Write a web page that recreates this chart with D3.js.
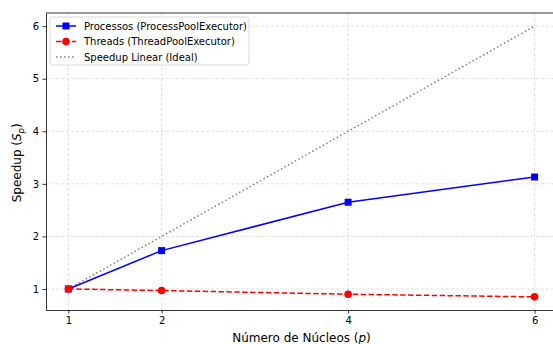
<!DOCTYPE html>
<html>
<head>
<meta charset="utf-8">
<script src="https://cdn.jsdelivr.net/npm/d3@7"></script>
<style>
  body { margin: 0; background: #fff; }
  svg { font-family: "DejaVu Sans", sans-serif; }
</style>
</head>
<body>
<div id="chart"></div>
<script>
// dados
var cores = [1, 2, 4, 6];
var processos = [1.0, 1.73, 2.65, 3.13];
var threads = [1.0, 0.97, 0.90, 0.85];
var linear = [1, 2, 4, 6];
var xTicks = [1, 2, 4, 6];
var yTicks = [1, 2, 3, 4, 5, 6];

var W = 553, H = 344;
var margin = {top: 13, right: -4, bottom: 34, left: 46},
  width = W - margin.left - margin.right,
  height = H - margin.top - margin.bottom;

var svg = d3.select("#chart").append("svg")
  .attr("width", W)
  .attr("height", H);

var g = svg.append("g")
  .attr("transform", "translate(" + margin.left + "," + margin.top + ")");

var x = d3.scaleLinear().domain([0.76, 6.24]).range([0, width]);
var y = d3.scaleLinear().domain([0.6, 6.25]).range([height, 0]);

// grid
g.selectAll(".gx").data(xTicks).enter().append("line")
  .attr("x1", d => x(d)).attr("x2", d => x(d))
  .attr("y1", 0).attr("y2", height)
  .attr("stroke", "#b0b0b0").attr("stroke-opacity", 0.5)
  .attr("stroke-dasharray", "3,2").attr("stroke-width", 0.8);
g.selectAll(".gy").data(yTicks).enter().append("line")
  .attr("y1", d => y(d)).attr("y2", d => y(d))
  .attr("x1", 0).attr("x2", width)
  .attr("stroke", "#b0b0b0").attr("stroke-opacity", 0.5)
  .attr("stroke-dasharray", "3,2").attr("stroke-width", 0.8);

var line = d3.line().x((d, i) => x(cores[i])).y(d => y(d));

// linear ideal
g.append("path").datum(linear)
  .attr("d", line).attr("fill", "none")
  .attr("stroke", "#808080").attr("stroke-width", 1.5)
  .attr("stroke-dasharray", "1.5,2.5");

// processos
g.append("path").datum(processos)
  .attr("d", line).attr("fill", "none")
  .attr("stroke", "#0000ff").attr("stroke-width", 1.5);
g.selectAll(".mp").data(processos).enter().append("rect")
  .attr("x", (d, i) => x(cores[i]) - 3.5).attr("y", d => y(d) - 3.5)
  .attr("width", 7).attr("height", 7).attr("fill", "#0000ff");

// threads
g.append("path").datum(threads)
  .attr("d", line).attr("fill", "none")
  .attr("stroke", "#ff0000").attr("stroke-width", 1.5)
  .attr("stroke-dasharray", "5.5,2.4");
g.selectAll(".mt").data(threads).enter().append("circle")
  .attr("cx", (d, i) => x(cores[i])).attr("cy", d => y(d))
  .attr("r", 3.8).attr("fill", "#ff0000");

// eixos
var xAxis = g.append("g")
  .attr("transform", "translate(0," + height + ")")
  .call(d3.axisBottom(x).tickValues(xTicks).tickSize(3.5).tickSizeOuter(0).tickPadding(3.5).tickFormat(d3.format("d")));
var yAxis = g.append("g")
  .call(d3.axisLeft(y).tickValues(yTicks).tickSize(3.5).tickSizeOuter(0).tickPadding(3.5).tickFormat(d3.format("d")));
[xAxis, yAxis].forEach(a => {
  a.select(".domain").attr("stroke", "#000").attr("stroke-width", 0.8);
  a.selectAll(".tick line").attr("stroke", "#000").attr("stroke-width", 0.8);
  a.selectAll("text").attr("font-size", "10px").attr("fill", "#000")
    .attr("font-family", "DejaVu Sans");
});
// top spine
g.append("line").attr("x1", 0).attr("x2", width).attr("y1", 0).attr("y2", 0)
  .attr("stroke", "#000").attr("stroke-width", 0.8);

// rotulos
var xl = svg.append("text")
  .attr("x", margin.left + x(3.5)).attr("y", 342)
  .attr("text-anchor", "middle").attr("font-size", "12px");
xl.append("tspan").text("Número de Núcleos (");
xl.append("tspan").attr("font-style", "italic").text("p");
xl.append("tspan").text(")");

var yl = svg.append("text")
  .attr("transform", "translate(21," + (margin.top + y(3.4)) + ") rotate(-90)")
  .attr("text-anchor", "middle").attr("font-size", "12px");
yl.append("tspan").text("Speedup (");
yl.append("tspan").attr("font-style", "italic").text("S");
yl.append("tspan").attr("font-style", "italic").attr("font-size", "8.5px").attr("dy", 3).text("p");
yl.append("tspan").attr("dy", -3).text(")");

// legenda
var series = [
  {name: "Processos (ProcessPoolExecutor)", color: "#0000ff", dash: null, marker: "square"},
  {name: "Threads (ThreadPoolExecutor)", color: "#ff0000", dash: "5.5,2.4", marker: "circle"},
  {name: "Speedup Linear (Ideal)", color: "#808080", dash: "1.5,2.5", marker: null}
];
var lg = g.append("g").attr("transform", "translate(4,4)");
lg.append("rect").attr("width", 199).attr("height", 48).attr("rx", 2.5)
  .attr("fill", "#fff").attr("fill-opacity", 0.8)
  .attr("stroke", "#d0d0d0").attr("stroke-width", 0.8);
series.forEach((s, i) => {
  var yy = 9 + i * 15.5;
  lg.append("line").attr("x1", 6).attr("x2", 26).attr("y1", yy).attr("y2", yy)
    .attr("stroke", s.color).attr("stroke-width", 1.5)
    .attr("stroke-dasharray", s.dash);
  if (s.marker == "square")
    lg.append("rect").attr("x", 12.5).attr("y", yy - 3.5).attr("width", 7).attr("height", 7).attr("fill", s.color);
  if (s.marker == "circle")
    lg.append("circle").attr("cx", 16).attr("cy", yy).attr("r", 3.8).attr("fill", s.color);
  lg.append("text").attr("x", 34).attr("y", yy + 3.6)
    .attr("font-size", "10px").text(s.name);
});
</script>
</body>
</html>
